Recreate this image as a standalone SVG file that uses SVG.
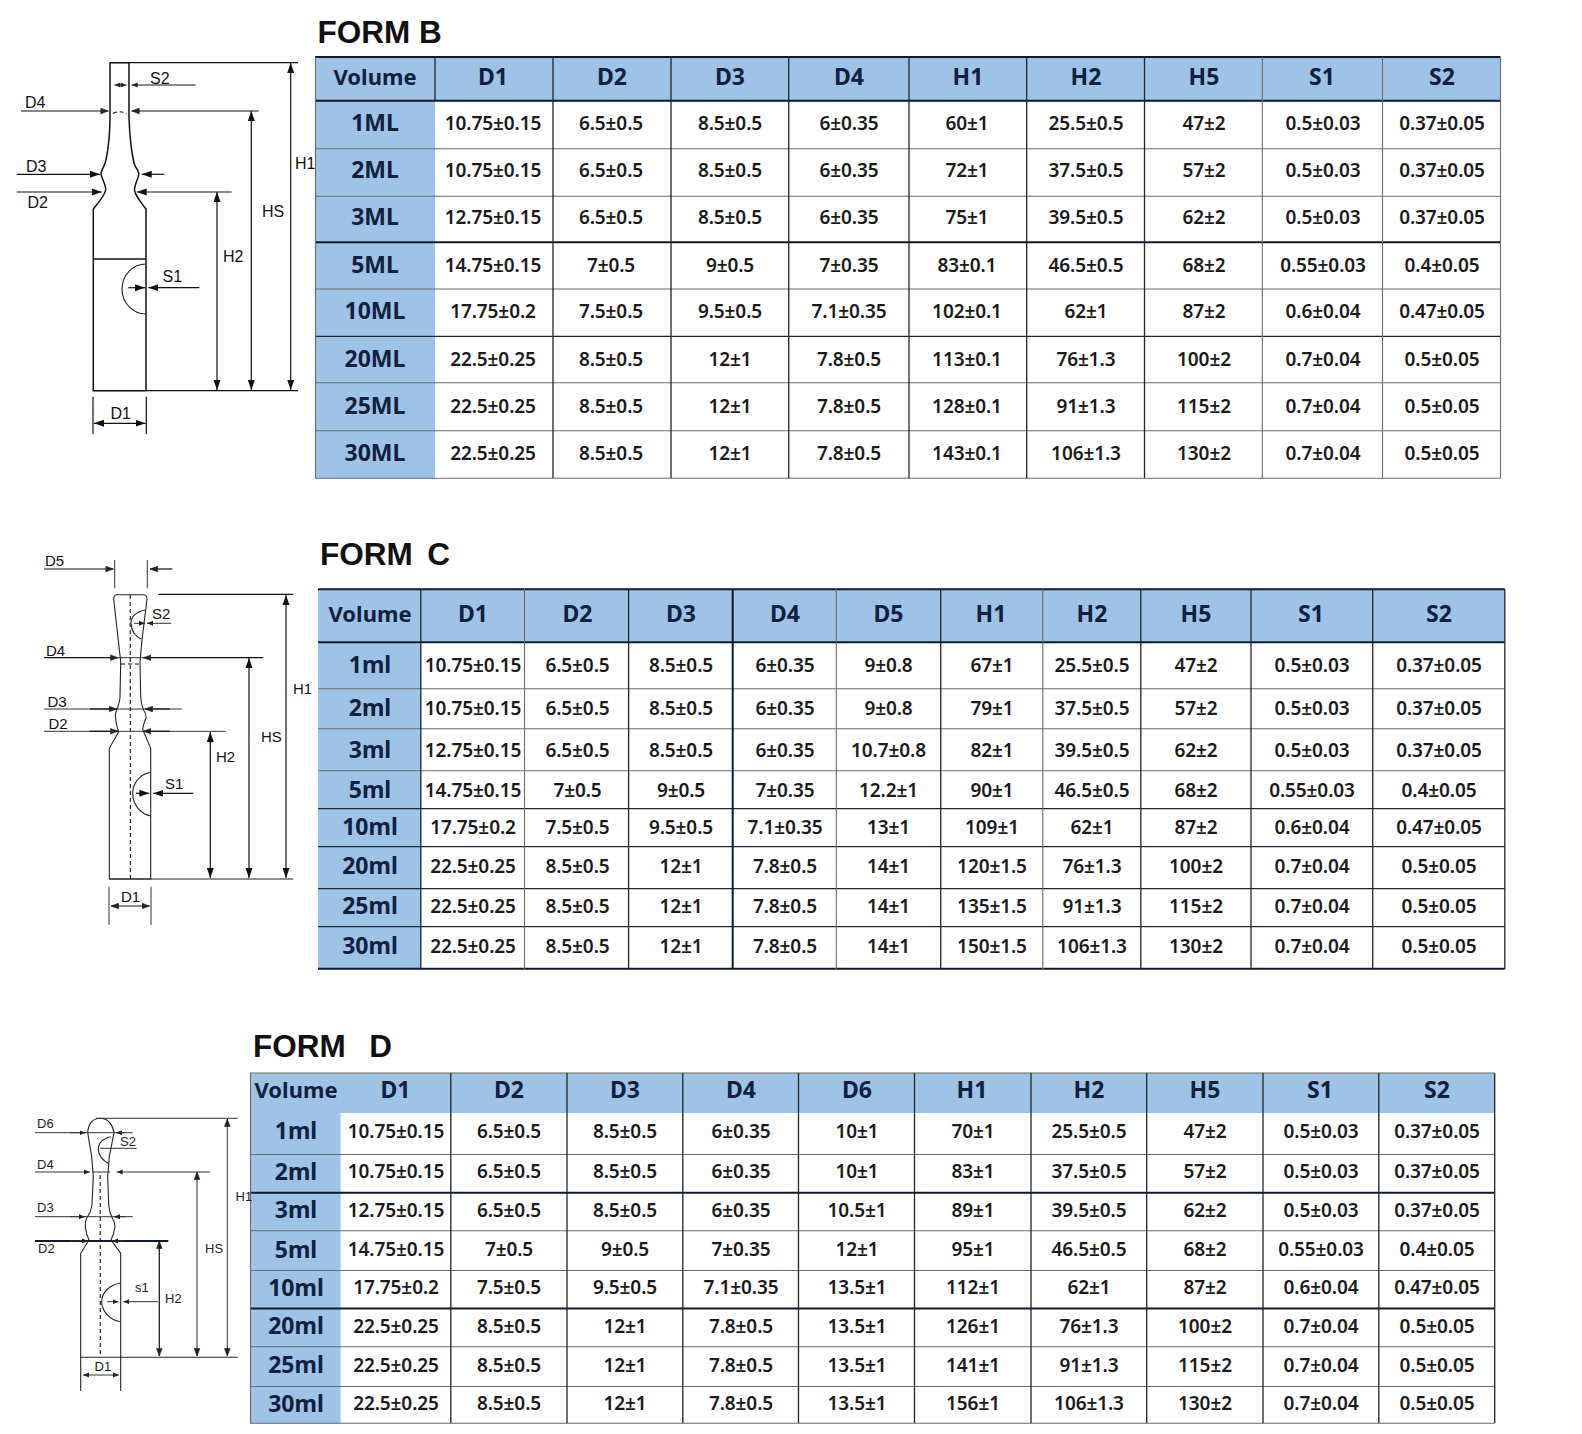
<svg xmlns="http://www.w3.org/2000/svg" width="1582" height="1434" viewBox="0 0 1582 1434">
<style>
text{font-family:"Noto Sans","Liberation Sans",sans-serif}
.title{font-family:"Liberation Sans",Arial,sans-serif;font-weight:700;font-size:31.5px;fill:#111;white-space:pre}
.v{font-size:19px;font-weight:600;fill:#1a1a1a;text-anchor:middle;letter-spacing:-.1px}
.h{font-size:23px;font-weight:700;fill:#10203f;text-anchor:middle}
.vol{font-size:22px;font-weight:700;fill:#10203f;text-anchor:middle}
.r{font-size:23px;font-weight:700;fill:#10203f;text-anchor:middle}
#form-c-table .r,#form-d-table .r{transform:translateY(1px)}
.fill{fill:#9fc3e6}
.k2{stroke:#0d1a2b;stroke-width:2;fill:none}
.k{stroke:#1c2530;stroke-width:1.3;fill:none}
.g{stroke:#6a6a6a;stroke-width:1.1;fill:none}
.o{fill:none;stroke:#111;stroke-width:1.5}
.o2{fill:none;stroke:#222;stroke-width:1.1}
.d{fill:none;stroke:#111;stroke-width:1.2}
.dg{fill:none;stroke:#333;stroke-width:1}
.dash{fill:none;stroke:#111;stroke-width:1.1;stroke-dasharray:4 3}
.lab{font-family:"Liberation Sans",Arial,sans-serif;font-size:16px;fill:#111}
.lab2{font-family:"Liberation Sans",Arial,sans-serif;font-size:15px;fill:#111}
.lab3{font-family:"Liberation Sans",Arial,sans-serif;font-size:13px;fill:#222}
</style>
<defs>
<marker id="a" markerUnits="userSpaceOnUse" markerWidth="11" markerHeight="8" refX="10" refY="4" orient="auto-start-reverse"><path d="M0 0.5L10 4L0 7.5z" fill="#111"/></marker>
<marker id="b" markerUnits="userSpaceOnUse" markerWidth="9" markerHeight="7" refX="8" refY="3.5" orient="auto-start-reverse"><path d="M0.5 0.7L8 3.5L0.5 6.3z" fill="#222" stroke="#222" stroke-width=".6"/></marker>
<marker id="s" markerUnits="userSpaceOnUse" markerWidth="7" markerHeight="6" refX="6" refY="3" orient="auto-start-reverse"><path d="M0 0.5L6 3L0 5.5z" fill="#222"/></marker>
</defs>
<rect width="1582" height="1434" fill="#fff"/>

<g id="form-b-title"><text class="title" x="317.5" y="43" style="word-spacing:0">FORM B</text></g>
<g id="form-b-table">
<rect class="fill" x="315" y="57" width="1185.5" height="44"/>
<rect class="fill" x="315" y="100" width="120" height="378"/>
<g>
<line class="k2" x1="315" y1="57" x2="1500.5" y2="57"/>
<line class="k2" x1="315" y1="100.7" x2="1500.5" y2="100.7"/>
<line class="g" x1="315" y1="148.7" x2="1500.5" y2="148.7"/>
<line class="g" x1="315" y1="196.3" x2="1500.5" y2="196.3"/>
<line class="k2" x1="315" y1="242.3" x2="1500.5" y2="242.3"/>
<line class="g" x1="315" y1="289" x2="1500.5" y2="289"/>
<line class="k" x1="315" y1="336.3" x2="1500.5" y2="336.3"/>
<line class="g" x1="315" y1="382.7" x2="1500.5" y2="382.7"/>
<line class="g" x1="315" y1="430.7" x2="1500.5" y2="430.7"/>
<line class="g" x1="315" y1="478.3" x2="1500.5" y2="478.3"/>
<line class="g" x1="315.5" y1="57" x2="315.5" y2="478"/>
<line class="k" x1="435" y1="57" x2="435" y2="100.7"/>
<line class="k" x1="553" y1="57" x2="553" y2="478"/>
<line class="k" x1="671" y1="57" x2="671" y2="478"/>
<line class="k" x1="788.7" y1="57" x2="788.7" y2="478"/>
<line class="k" x1="909" y1="57" x2="909" y2="478"/>
<line class="k" x1="1026.7" y1="57" x2="1026.7" y2="478"/>
<line class="k" x1="1144.5" y1="57" x2="1144.5" y2="478"/>
<line class="g" x1="1262.3" y1="57" x2="1262.3" y2="478"/>
<line class="g" x1="1382.5" y1="57" x2="1382.5" y2="478"/>
<line class="g" x1="1500.5" y1="57" x2="1500.5" y2="478"/>
</g>
<text class="vol" x="375" y="85">Volume</text><text class="h" x="493" y="85">D1</text><text class="h" x="612" y="85">D2</text><text class="h" x="730" y="85">D3</text><text class="h" x="849" y="85">D4</text><text class="h" x="968" y="85">H1</text><text class="h" x="1086" y="85">H2</text><text class="h" x="1204" y="85">H5</text><text class="h" x="1322" y="85">S1</text><text class="h" x="1442" y="85">S2</text>
<text class="r" x="375" y="131">1ML</text><text class="v" x="493" y="130">10.75±0.15</text><text class="v" x="611" y="130">6.5±0.5</text><text class="v" x="730" y="130">8.5±0.5</text><text class="v" x="849" y="130">6±0.35</text><text class="v" x="967" y="130">60±1</text><text class="v" x="1086" y="130">25.5±0.5</text><text class="v" x="1204" y="130">47±2</text><text class="v" x="1323" y="130">0.5±0.03</text><text class="v" x="1442" y="130">0.37±0.05</text>
<text class="r" x="375" y="178">2ML</text><text class="v" x="493" y="177.3">10.75±0.15</text><text class="v" x="611" y="177.3">6.5±0.5</text><text class="v" x="730" y="177.3">8.5±0.5</text><text class="v" x="849" y="177.3">6±0.35</text><text class="v" x="967" y="177.3">72±1</text><text class="v" x="1086" y="177.3">37.5±0.5</text><text class="v" x="1204" y="177.3">57±2</text><text class="v" x="1323" y="177.3">0.5±0.03</text><text class="v" x="1442" y="177.3">0.37±0.05</text>
<text class="r" x="375" y="225">3ML</text><text class="v" x="493" y="224.3">12.75±0.15</text><text class="v" x="611" y="224.3">6.5±0.5</text><text class="v" x="730" y="224.3">8.5±0.5</text><text class="v" x="849" y="224.3">6±0.35</text><text class="v" x="967" y="224.3">75±1</text><text class="v" x="1086" y="224.3">39.5±0.5</text><text class="v" x="1204" y="224.3">62±2</text><text class="v" x="1323" y="224.3">0.5±0.03</text><text class="v" x="1442" y="224.3">0.37±0.05</text>
<text class="r" x="375" y="272.5">5ML</text><text class="v" x="493" y="271.7">14.75±0.15</text><text class="v" x="611" y="271.7">7±0.5</text><text class="v" x="730" y="271.7">9±0.5</text><text class="v" x="849" y="271.7">7±0.35</text><text class="v" x="967" y="271.7">83±0.1</text><text class="v" x="1086" y="271.7">46.5±0.5</text><text class="v" x="1204" y="271.7">68±2</text><text class="v" x="1323" y="271.7">0.55±0.03</text><text class="v" x="1442" y="271.7">0.4±0.05</text>
<text class="r" x="375" y="319">10ML</text><text class="v" x="493" y="318.3">17.75±0.2</text><text class="v" x="611" y="318.3">7.5±0.5</text><text class="v" x="730" y="318.3">9.5±0.5</text><text class="v" x="849" y="318.3">7.1±0.35</text><text class="v" x="967" y="318.3">102±0.1</text><text class="v" x="1086" y="318.3">62±1</text><text class="v" x="1204" y="318.3">87±2</text><text class="v" x="1323" y="318.3">0.6±0.04</text><text class="v" x="1442" y="318.3">0.47±0.05</text>
<text class="r" x="375" y="366.5">20ML</text><text class="v" x="493" y="365.7">22.5±0.25</text><text class="v" x="611" y="365.7">8.5±0.5</text><text class="v" x="730" y="365.7">12±1</text><text class="v" x="849" y="365.7">7.8±0.5</text><text class="v" x="967" y="365.7">113±0.1</text><text class="v" x="1086" y="365.7">76±1.3</text><text class="v" x="1204" y="365.7">100±2</text><text class="v" x="1323" y="365.7">0.7±0.04</text><text class="v" x="1442" y="365.7">0.5±0.05</text>
<text class="r" x="375" y="413.5">25ML</text><text class="v" x="493" y="412.7">22.5±0.25</text><text class="v" x="611" y="412.7">8.5±0.5</text><text class="v" x="730" y="412.7">12±1</text><text class="v" x="849" y="412.7">7.8±0.5</text><text class="v" x="967" y="412.7">128±0.1</text><text class="v" x="1086" y="412.7">91±1.3</text><text class="v" x="1204" y="412.7">115±2</text><text class="v" x="1323" y="412.7">0.7±0.04</text><text class="v" x="1442" y="412.7">0.5±0.05</text>
<text class="r" x="375" y="460.5">30ML</text><text class="v" x="493" y="460">22.5±0.25</text><text class="v" x="611" y="460">8.5±0.5</text><text class="v" x="730" y="460">12±1</text><text class="v" x="849" y="460">7.8±0.5</text><text class="v" x="967" y="460">143±0.1</text><text class="v" x="1086" y="460">106±1.3</text><text class="v" x="1204" y="460">130±2</text><text class="v" x="1323" y="460">0.7±0.04</text><text class="v" x="1442" y="460">0.5±0.05</text>
</g>

<g id="form-c-title"><text class="title" x="320" y="565" style="word-spacing:-1.5px">FORM  C</text></g>
<g id="form-c-table">
<rect class="fill" x="318" y="589" width="1186.8" height="53.5"/>
<rect class="fill" x="318" y="642" width="103" height="327"/>
<g>
<line class="k2" x1="318" y1="589.3" x2="1504.8" y2="589.3"/>
<line class="k2" x1="318" y1="642.3" x2="1504.8" y2="642.3"/>
<line class="g" x1="318" y1="688.7" x2="1504.8" y2="688.7"/>
<line class="g" x1="318" y1="728.7" x2="1504.8" y2="728.7"/>
<line class="g" x1="318" y1="770.7" x2="1504.8" y2="770.7"/>
<line class="k" x1="318" y1="808.7" x2="1504.8" y2="808.7"/>
<line class="k" x1="318" y1="846.7" x2="1504.8" y2="846.7"/>
<line class="k" x1="318" y1="888.7" x2="1504.8" y2="888.7"/>
<line class="k" x1="318" y1="926.7" x2="1504.8" y2="926.7"/>
<line class="k2" x1="318" y1="968.7" x2="1504.8" y2="968.7"/>
<line class="k" x1="420.8" y1="589" x2="420.8" y2="969"/>
<line class="g" x1="524.5" y1="589" x2="524.5" y2="969"/>
<line class="k" x1="628.6" y1="589" x2="628.6" y2="969"/>
<line class="k2" x1="732.7" y1="589" x2="732.7" y2="969"/>
<line class="g" x1="836.3" y1="589" x2="836.3" y2="969"/>
<line class="k" x1="940.7" y1="589" x2="940.7" y2="969"/>
<line class="g" x1="1042.8" y1="589" x2="1042.8" y2="969"/>
<line class="k" x1="1140.8" y1="589" x2="1140.8" y2="969"/>
<line class="k" x1="1251" y1="589" x2="1251" y2="969"/>
<line class="k" x1="1372.7" y1="589" x2="1372.7" y2="969"/>
<line class="k" x1="1504.8" y1="589" x2="1504.8" y2="969"/>
</g>
<text class="vol" x="370" y="621.7">Volume</text><text class="h" x="473" y="621.7">D1</text><text class="h" x="577.5" y="621.7">D2</text><text class="h" x="681" y="621.7">D3</text><text class="h" x="785" y="621.7">D4</text><text class="h" x="888.5" y="621.7">D5</text><text class="h" x="991" y="621.7">H1</text><text class="h" x="1092" y="621.7">H2</text><text class="h" x="1196" y="621.7">H5</text><text class="h" x="1311" y="621.7">S1</text><text class="h" x="1439" y="621.7">S2</text>
<text class="r" x="370" y="671.7">1ml</text><text class="v" x="473" y="671.7">10.75±0.15</text><text class="v" x="577.5" y="671.7">6.5±0.5</text><text class="v" x="681" y="671.7">8.5±0.5</text><text class="v" x="785" y="671.7">6±0.35</text><text class="v" x="888.5" y="671.7">9±0.8</text><text class="v" x="992" y="671.7">67±1</text><text class="v" x="1092" y="671.7">25.5±0.5</text><text class="v" x="1196" y="671.7">47±2</text><text class="v" x="1312" y="671.7">0.5±0.03</text><text class="v" x="1439" y="671.7">0.37±0.05</text>
<text class="r" x="370" y="715">2ml</text><text class="v" x="473" y="715">10.75±0.15</text><text class="v" x="577.5" y="715">6.5±0.5</text><text class="v" x="681" y="715">8.5±0.5</text><text class="v" x="785" y="715">6±0.35</text><text class="v" x="888.5" y="715">9±0.8</text><text class="v" x="992" y="715">79±1</text><text class="v" x="1092" y="715">37.5±0.5</text><text class="v" x="1196" y="715">57±2</text><text class="v" x="1312" y="715">0.5±0.03</text><text class="v" x="1439" y="715">0.37±0.05</text>
<text class="r" x="370" y="756.7">3ml</text><text class="v" x="473" y="756.7">12.75±0.15</text><text class="v" x="577.5" y="756.7">6.5±0.5</text><text class="v" x="681" y="756.7">8.5±0.5</text><text class="v" x="785" y="756.7">6±0.35</text><text class="v" x="888.5" y="756.7">10.7±0.8</text><text class="v" x="992" y="756.7">82±1</text><text class="v" x="1092" y="756.7">39.5±0.5</text><text class="v" x="1196" y="756.7">62±2</text><text class="v" x="1312" y="756.7">0.5±0.03</text><text class="v" x="1439" y="756.7">0.37±0.05</text>
<text class="r" x="370" y="796.7">5ml</text><text class="v" x="473" y="796.7">14.75±0.15</text><text class="v" x="577.5" y="796.7">7±0.5</text><text class="v" x="681" y="796.7">9±0.5</text><text class="v" x="785" y="796.7">7±0.35</text><text class="v" x="888.5" y="796.7">12.2±1</text><text class="v" x="992" y="796.7">90±1</text><text class="v" x="1092" y="796.7">46.5±0.5</text><text class="v" x="1196" y="796.7">68±2</text><text class="v" x="1312" y="796.7">0.55±0.03</text><text class="v" x="1439" y="796.7">0.4±0.05</text>
<text class="r" x="370" y="834">10ml</text><text class="v" x="473" y="834">17.75±0.2</text><text class="v" x="577.5" y="834">7.5±0.5</text><text class="v" x="681" y="834">9.5±0.5</text><text class="v" x="785" y="834">7.1±0.35</text><text class="v" x="888.5" y="834">13±1</text><text class="v" x="992" y="834">109±1</text><text class="v" x="1092" y="834">62±1</text><text class="v" x="1196" y="834">87±2</text><text class="v" x="1312" y="834">0.6±0.04</text><text class="v" x="1439" y="834">0.47±0.05</text>
<text class="r" x="370" y="873.3">20ml</text><text class="v" x="473" y="873.3">22.5±0.25</text><text class="v" x="577.5" y="873.3">8.5±0.5</text><text class="v" x="681" y="873.3">12±1</text><text class="v" x="785" y="873.3">7.8±0.5</text><text class="v" x="888.5" y="873.3">14±1</text><text class="v" x="992" y="873.3">120±1.5</text><text class="v" x="1092" y="873.3">76±1.3</text><text class="v" x="1196" y="873.3">100±2</text><text class="v" x="1312" y="873.3">0.7±0.04</text><text class="v" x="1439" y="873.3">0.5±0.05</text>
<text class="r" x="370" y="913.3">25ml</text><text class="v" x="473" y="913.3">22.5±0.25</text><text class="v" x="577.5" y="913.3">8.5±0.5</text><text class="v" x="681" y="913.3">12±1</text><text class="v" x="785" y="913.3">7.8±0.5</text><text class="v" x="888.5" y="913.3">14±1</text><text class="v" x="992" y="913.3">135±1.5</text><text class="v" x="1092" y="913.3">91±1.3</text><text class="v" x="1196" y="913.3">115±2</text><text class="v" x="1312" y="913.3">0.7±0.04</text><text class="v" x="1439" y="913.3">0.5±0.05</text>
<text class="r" x="370" y="953.3">30ml</text><text class="v" x="473" y="953.3">22.5±0.25</text><text class="v" x="577.5" y="953.3">8.5±0.5</text><text class="v" x="681" y="953.3">12±1</text><text class="v" x="785" y="953.3">7.8±0.5</text><text class="v" x="888.5" y="953.3">14±1</text><text class="v" x="992" y="953.3">150±1.5</text><text class="v" x="1092" y="953.3">106±1.3</text><text class="v" x="1196" y="953.3">130±2</text><text class="v" x="1312" y="953.3">0.7±0.04</text><text class="v" x="1439" y="953.3">0.5±0.05</text>
</g>

<g id="form-d-title"><text class="title" x="253" y="1057" style="word-spacing:3px">FORM  D</text></g>
<g id="form-d-table">
<rect class="fill" x="250" y="1073" width="1244.7" height="40"/>
<rect class="fill" x="250" y="1112" width="90.6" height="311.5"/>
<g>
<line class="g" x1="250" y1="1073" x2="1494.7" y2="1073"/>
<line class="g" x1="250" y1="1154.5" x2="1494.7" y2="1154.5"/>
<line class="k2" x1="250" y1="1192.7" x2="1494.7" y2="1192.7"/>
<line class="g" x1="250" y1="1230.7" x2="1494.7" y2="1230.7"/>
<line class="g" x1="250" y1="1270.5" x2="1494.7" y2="1270.5"/>
<line class="k2" x1="250" y1="1308.5" x2="1494.7" y2="1308.5"/>
<line class="g" x1="250" y1="1346.7" x2="1494.7" y2="1346.7"/>
<line class="g" x1="250" y1="1386.5" x2="1494.7" y2="1386.5"/>
<line class="g" x1="250" y1="1423.3" x2="1494.7" y2="1423.3"/>
<line class="g" x1="250.5" y1="1073" x2="250.5" y2="1423"/>
<line class="k" x1="450.8" y1="1073" x2="450.8" y2="1423"/>
<line class="k" x1="567" y1="1073" x2="567" y2="1423"/>
<line class="k" x1="682.8" y1="1073" x2="682.8" y2="1423"/>
<line class="k" x1="798.5" y1="1073" x2="798.5" y2="1423"/>
<line class="k" x1="914.5" y1="1073" x2="914.5" y2="1423"/>
<line class="k" x1="1031" y1="1073" x2="1031" y2="1423"/>
<line class="k" x1="1146.7" y1="1073" x2="1146.7" y2="1423"/>
<line class="k" x1="1263" y1="1073" x2="1263" y2="1423"/>
<line class="k" x1="1378.8" y1="1073" x2="1378.8" y2="1423"/>
<line class="k" x1="1494.7" y1="1073" x2="1494.7" y2="1423"/>
</g>
<text class="vol" x="296" y="1098.3">Volume</text><text class="h" x="395.5" y="1098.3">D1</text><text class="h" x="509" y="1098.3">D2</text><text class="h" x="625" y="1098.3">D3</text><text class="h" x="741" y="1098.3">D4</text><text class="h" x="857" y="1098.3">D6</text><text class="h" x="972" y="1098.3">H1</text><text class="h" x="1089" y="1098.3">H2</text><text class="h" x="1205" y="1098.3">H5</text><text class="h" x="1320" y="1098.3">S1</text><text class="h" x="1437" y="1098.3">S2</text>
<text class="r" x="296" y="1138.3">1ml</text><text class="v" x="396" y="1137.7">10.75±0.15</text><text class="v" x="509" y="1137.7">6.5±0.5</text><text class="v" x="625" y="1137.7">8.5±0.5</text><text class="v" x="741" y="1137.7">6±0.35</text><text class="v" x="857" y="1137.7">10±1</text><text class="v" x="973" y="1137.7">70±1</text><text class="v" x="1089" y="1137.7">25.5±0.5</text><text class="v" x="1205" y="1137.7">47±2</text><text class="v" x="1321" y="1137.7">0.5±0.03</text><text class="v" x="1437" y="1137.7">0.37±0.05</text>
<text class="r" x="296" y="1178.7">2ml</text><text class="v" x="396" y="1178.3">10.75±0.15</text><text class="v" x="509" y="1178.3">6.5±0.5</text><text class="v" x="625" y="1178.3">8.5±0.5</text><text class="v" x="741" y="1178.3">6±0.35</text><text class="v" x="857" y="1178.3">10±1</text><text class="v" x="973" y="1178.3">83±1</text><text class="v" x="1089" y="1178.3">37.5±0.5</text><text class="v" x="1205" y="1178.3">57±2</text><text class="v" x="1321" y="1178.3">0.5±0.03</text><text class="v" x="1437" y="1178.3">0.37±0.05</text>
<text class="r" x="296" y="1217">3ml</text><text class="v" x="396" y="1216.7">12.75±0.15</text><text class="v" x="509" y="1216.7">6.5±0.5</text><text class="v" x="625" y="1216.7">8.5±0.5</text><text class="v" x="741" y="1216.7">6±0.35</text><text class="v" x="857" y="1216.7">10.5±1</text><text class="v" x="973" y="1216.7">89±1</text><text class="v" x="1089" y="1216.7">39.5±0.5</text><text class="v" x="1205" y="1216.7">62±2</text><text class="v" x="1321" y="1216.7">0.5±0.03</text><text class="v" x="1437" y="1216.7">0.37±0.05</text>
<text class="r" x="296" y="1256.5">5ml</text><text class="v" x="396" y="1256">14.75±0.15</text><text class="v" x="509" y="1256">7±0.5</text><text class="v" x="625" y="1256">9±0.5</text><text class="v" x="741" y="1256">7±0.35</text><text class="v" x="857" y="1256">12±1</text><text class="v" x="973" y="1256">95±1</text><text class="v" x="1089" y="1256">46.5±0.5</text><text class="v" x="1205" y="1256">68±2</text><text class="v" x="1321" y="1256">0.55±0.03</text><text class="v" x="1437" y="1256">0.4±0.05</text>
<text class="r" x="296" y="1295">10ml</text><text class="v" x="396" y="1294.3">17.75±0.2</text><text class="v" x="509" y="1294.3">7.5±0.5</text><text class="v" x="625" y="1294.3">9.5±0.5</text><text class="v" x="741" y="1294.3">7.1±0.35</text><text class="v" x="857" y="1294.3">13.5±1</text><text class="v" x="973" y="1294.3">112±1</text><text class="v" x="1089" y="1294.3">62±1</text><text class="v" x="1205" y="1294.3">87±2</text><text class="v" x="1321" y="1294.3">0.6±0.04</text><text class="v" x="1437" y="1294.3">0.47±0.05</text>
<text class="r" x="296" y="1333">20ml</text><text class="v" x="396" y="1332.7">22.5±0.25</text><text class="v" x="509" y="1332.7">8.5±0.5</text><text class="v" x="625" y="1332.7">12±1</text><text class="v" x="741" y="1332.7">7.8±0.5</text><text class="v" x="857" y="1332.7">13.5±1</text><text class="v" x="973" y="1332.7">126±1</text><text class="v" x="1089" y="1332.7">76±1.3</text><text class="v" x="1205" y="1332.7">100±2</text><text class="v" x="1321" y="1332.7">0.7±0.04</text><text class="v" x="1437" y="1332.7">0.5±0.05</text>
<text class="r" x="296" y="1372">25ml</text><text class="v" x="396" y="1371.7">22.5±0.25</text><text class="v" x="509" y="1371.7">8.5±0.5</text><text class="v" x="625" y="1371.7">12±1</text><text class="v" x="741" y="1371.7">7.8±0.5</text><text class="v" x="857" y="1371.7">13.5±1</text><text class="v" x="973" y="1371.7">141±1</text><text class="v" x="1089" y="1371.7">91±1.3</text><text class="v" x="1205" y="1371.7">115±2</text><text class="v" x="1321" y="1371.7">0.7±0.04</text><text class="v" x="1437" y="1371.7">0.5±0.05</text>
<text class="r" x="296" y="1410.5">30ml</text><text class="v" x="396" y="1410">22.5±0.25</text><text class="v" x="509" y="1410">8.5±0.5</text><text class="v" x="625" y="1410">12±1</text><text class="v" x="741" y="1410">7.8±0.5</text><text class="v" x="857" y="1410">13.5±1</text><text class="v" x="973" y="1410">156±1</text><text class="v" x="1089" y="1410">106±1.3</text><text class="v" x="1205" y="1410">130±2</text><text class="v" x="1321" y="1410">0.7±0.04</text><text class="v" x="1437" y="1410">0.5±0.05</text>
</g>

<g id="form-b-ampoule">
<path class="o" d="M110 62.7H129V117.3C129.6 135 131 150 134 163C135 167 137.5 169 138.7 173C139.5 178 134 184 134.5 190C135 195 139 200 146 209V390.7H93.3V209C100 201 105 195 105.7 190C106 184 101 178 101 173C102.5 168 105 165 106 160C109 145 110 130 110 117.3Z"/>
<line class="o" x1="93.3" y1="259" x2="146" y2="259"/>
<path class="o2" d="M146 264A24 25 0 0 0 146 314"/>
<path class="dash" d="M113 113.5Q119.5 110 127 113.5"/>
</g>
<g id="form-b-dimensions">
<line class="d" x1="129" y1="62.7" x2="298" y2="62.7"/>
<line class="d" x1="146" y1="390.7" x2="298" y2="390.7"/>
<line class="d" x1="290.7" y1="63" x2="290.7" y2="390" marker-start="url(#a)" marker-end="url(#a)"/>
<line class="d" x1="251.3" y1="111" x2="251.3" y2="390" marker-start="url(#a)" marker-end="url(#a)"/>
<line class="d" x1="217" y1="192" x2="217" y2="390" marker-start="url(#a)" marker-end="url(#a)"/>
<line class="d" x1="21" y1="111" x2="108.3" y2="111" marker-end="url(#b)"/>
<line class="d" x1="258.7" y1="111" x2="131.7" y2="111" marker-end="url(#b)"/>
<line class="d" x1="195.7" y1="85" x2="131.7" y2="85" marker-end="url(#s)"/>
<line class="dg" x1="114.5" y1="85" x2="126.5" y2="85" marker-start="url(#s)" marker-end="url(#s)"/>
<line class="d" x1="16.7" y1="174.3" x2="100" y2="174.3" marker-end="url(#a)"/>
<line class="d" x1="164.3" y1="174.3" x2="141.7" y2="174.3" marker-end="url(#a)"/>
<line class="d" x1="16.7" y1="192" x2="101.7" y2="192" marker-end="url(#a)"/>
<line class="d" x1="231.7" y1="192" x2="136.7" y2="192" marker-end="url(#a)"/>
<line class="d" x1="128.3" y1="287.7" x2="145" y2="287.7" marker-end="url(#a)"/>
<line class="d" x1="199.3" y1="287.7" x2="148.3" y2="287.7" marker-end="url(#a)"/>
<line class="d" x1="93" y1="396.7" x2="93" y2="434"/>
<line class="d" x1="146.3" y1="396.7" x2="146.3" y2="434"/>
<line class="d" x1="94" y1="423.3" x2="145.5" y2="423.3" marker-start="url(#a)" marker-end="url(#a)"/>
</g>
<g id="form-b-labels">
<text class="lab" x="25" y="108">D4</text><text class="lab" x="26" y="171.5">D3</text><text class="lab" x="27.5" y="208">D2</text><text class="lab" x="150" y="83.5">S2</text><text class="lab" x="295" y="168.5">H1</text><text class="lab" x="262" y="217">HS</text><text class="lab" x="223" y="261.5">H2</text><text class="lab" x="162.5" y="281.5">S1</text><text class="lab" x="110.5" y="419">D1</text>
</g>

<g id="form-c-ampoule">
<path class="o2" d="M116.7 594.7H144Q147 595 147 599.3L142 640L140 661.7L140.7 696.7Q141.5 705 143.5 710Q146.5 714 146 718Q143 725 142.7 729.5L150.7 748.3V879H109.3V748.3L118.7 731.7Q116 725 115.3 715Q116 711 117.5 708Q120 700 120 696.7L120.7 661.7L113.7 599.3Q113.7 595 116.7 594.7Z"/>
<line class="o2" x1="109.3" y1="879" x2="293.3" y2="879"/>
<path class="dash" d="M130.2 595L130.4 879"/>
<path class="dash" d="M121 664H139"/>
<path class="o2" d="M145 610C136 612 131 617 131 623C131 631 136 637 141 639"/>
<path class="o2" d="M150.7 772.3C140 774 132.7 783 132.7 793.5C132.7 804 140 814 150.7 816"/>
</g>
<g id="form-c-dimensions">
<line class="d" x1="44" y1="569" x2="113.3" y2="569" marker-end="url(#b)"/>
<line class="d" x1="172.3" y1="569" x2="150" y2="569" marker-end="url(#b)"/>
<line class="dg" x1="114.7" y1="560" x2="114.7" y2="588.3"/>
<line class="dg" x1="147.3" y1="560" x2="147.3" y2="588.3"/>
<line class="d" x1="158.3" y1="594.3" x2="293.3" y2="594.3"/>
<line class="d" x1="286" y1="595" x2="286" y2="878" marker-start="url(#a)" marker-end="url(#a)"/>
<line class="d" x1="249" y1="658" x2="249" y2="878" marker-start="url(#a)" marker-end="url(#a)"/>
<line class="d" x1="210.3" y1="732" x2="210.3" y2="878" marker-start="url(#a)" marker-end="url(#a)"/>
<line class="d" x1="44" y1="657.7" x2="118" y2="657.7" marker-end="url(#b)"/>
<line class="d" x1="263.3" y1="657.7" x2="143.3" y2="657.7" marker-end="url(#b)"/>
<line class="dg" x1="116" y1="657.7" x2="145" y2="657.7"/>
<line class="dg" x1="44" y1="709" x2="181.7" y2="709"/>
<line class="d" x1="90" y1="709" x2="116.7" y2="709" marker-end="url(#b)"/>
<line class="d" x1="170" y1="709" x2="145" y2="709" marker-end="url(#b)"/>
<line class="dg" x1="44" y1="731.3" x2="225.7" y2="731.3"/>
<line class="d" x1="90" y1="731.3" x2="118" y2="731.3" marker-end="url(#b)"/>
<line class="d" x1="170" y1="731.3" x2="143.3" y2="731.3" marker-end="url(#b)"/>
<line class="dg" x1="134" y1="623.3" x2="145" y2="623.3" marker-end="url(#s)"/>
<line class="dg" x1="171" y1="623.3" x2="147" y2="623.3" marker-end="url(#s)"/>
<line class="d" x1="136" y1="793.3" x2="149.3" y2="793.3" marker-end="url(#a)"/>
<line class="d" x1="193.3" y1="793.3" x2="153.3" y2="793.3" marker-end="url(#a)"/>
<line class="dg" x1="109" y1="886.7" x2="109" y2="925"/>
<line class="dg" x1="151" y1="886.7" x2="151" y2="925"/>
<line class="d" x1="111" y1="906" x2="149.5" y2="906" marker-start="url(#b)" marker-end="url(#b)"/>
</g>
<g id="form-c-labels">
<text class="lab2" x="45" y="566">D5</text><text class="lab2" x="46" y="655.5">D4</text><text class="lab2" x="47.5" y="706.5">D3</text><text class="lab2" x="48.5" y="729">D2</text><text class="lab2" x="152" y="619">S2</text><text class="lab2" x="293" y="694">H1</text><text class="lab2" x="261" y="741.5">HS</text><text class="lab2" x="216" y="762">H2</text><text class="lab2" x="165" y="789">S1</text><text class="lab2" x="121" y="901.5">D1</text>
</g>

<g id="form-d-ampoule">
<path class="o2" d="M87.7 1132.7C88 1125 92 1118.3 100 1118.3C108 1118.3 113 1125 114 1132.7L109.3 1156.7L107.7 1176.7L108.7 1205Q109.5 1212 111.7 1216.7Q115 1222 115 1226.7Q114 1234 111 1240L120.7 1253.3V1391M87.7 1132.7L91.7 1156.7L93.3 1176.7L92 1205Q91 1212 86.7 1218.3Q85 1222 85.3 1226.7Q86 1234 89 1240L80.7 1253.3V1391"/>
<line class="o2" x1="80.7" y1="1357.3" x2="237.7" y2="1357.3"/>
<path class="dash" d="M100.2 1175L100.3 1355"/>
<path class="o2" d="M110.7 1136.7C103 1138 98.3 1143 98.3 1149.5C98.3 1155 103 1161 108.3 1163.3"/>
<path class="o2" d="M120 1283.3C110 1285 101.7 1292 101.7 1301.7C101.7 1311 110 1320 120 1321.7"/>
</g>
<g id="form-d-dimensions">
<line class="dg" x1="96" y1="1118.3" x2="237.7" y2="1118.3"/>
<line class="dg" x1="227.3" y1="1119" x2="227.3" y2="1356" marker-start="url(#b)" marker-end="url(#b)"/>
<line class="dg" x1="197" y1="1172" x2="197" y2="1356" marker-start="url(#b)" marker-end="url(#b)"/>
<line class="d" x1="159.3" y1="1241" x2="159.3" y2="1356" marker-start="url(#b)" marker-end="url(#b)"/>
<line class="dg" x1="35" y1="1132.7" x2="132.7" y2="1132.7"/>
<line class="dg" x1="70" y1="1132.7" x2="85.5" y2="1132.7" marker-end="url(#s)"/>
<line class="dg" x1="125" y1="1132.7" x2="116" y2="1132.7" marker-end="url(#s)"/>
<line class="dg" x1="100" y1="1148.3" x2="136.7" y2="1148.3"/>
<line class="dg" x1="35" y1="1172" x2="90" y2="1172" marker-end="url(#s)"/>
<line class="dg" x1="210" y1="1172" x2="116.7" y2="1172" marker-end="url(#s)"/>
<line class="dg" x1="92" y1="1172" x2="110" y2="1172"/>
<line class="dg" x1="35" y1="1216.7" x2="132.7" y2="1216.7"/>
<line class="dg" x1="70" y1="1216.7" x2="85" y2="1216.7" marker-end="url(#s)"/>
<line class="dg" x1="125" y1="1216.7" x2="114" y2="1216.7" marker-end="url(#s)"/>
<line class="k2" x1="35" y1="1241" x2="168.3" y2="1241"/>
<line class="dg" x1="70" y1="1241" x2="88" y2="1241" marker-end="url(#s)"/>
<line class="dg" x1="125" y1="1241" x2="112" y2="1241" marker-end="url(#s)"/>
<line class="dg" x1="107" y1="1301.7" x2="118.5" y2="1301.7" marker-end="url(#s)"/>
<line class="dg" x1="158.3" y1="1301.7" x2="123.3" y2="1301.7" marker-end="url(#s)"/>
<line class="dg" x1="83" y1="1375" x2="119" y2="1375" marker-start="url(#s)" marker-end="url(#s)"/>
</g>
<g id="form-d-labels">
<text class="lab3" x="37" y="1128">D6</text><text class="lab3" x="37" y="1169">D4</text><text class="lab3" x="37" y="1212">D3</text><text class="lab3" x="38" y="1253">D2</text><text class="lab3" x="120" y="1145.5">S2</text><text class="lab3" x="235.5" y="1201">H1</text><text class="lab3" x="205" y="1253">HS</text><text class="lab3" x="165" y="1303">H2</text><text class="lab3" x="135" y="1291.5">s1</text><text class="lab3" x="94.5" y="1371">D1</text>
</g>
</svg>
